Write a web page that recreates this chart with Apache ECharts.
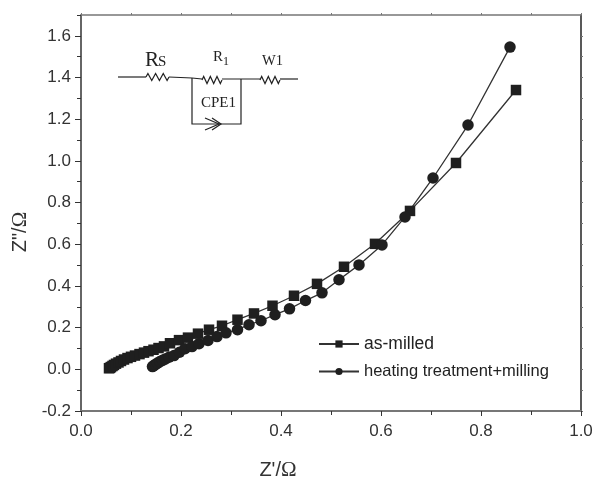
<!DOCTYPE html>
<html>
<head>
<meta charset="utf-8">
<style>
  html, body { margin: 0; padding: 0; background: #fff; }
  #main { width: 596px; height: 477px; }
</style>
<script src="https://cdn.jsdelivr.net/npm/echarts@6/dist/echarts.min.js"></script>
</head>
<body>
<div id="main"></div>
<script>
var milledX = [0.056, 0.058, 0.060, 0.063, 0.066, 0.070, 0.075, 0.080, 0.086, 0.093, 0.100, 0.108, 0.117, 0.126, 0.135, 0.145, 0.155, 0.166, 0.178, 0.196, 0.214, 0.234, 0.256, 0.282, 0.313, 0.346, 0.383, 0.426, 0.472, 0.526, 0.588, 0.658, 0.750, 0.870];
var milledY = [0.005, 0.007, 0.011, 0.016, 0.021, 0.027, 0.033, 0.040, 0.047, 0.054, 0.060, 0.066, 0.073, 0.080, 0.087, 0.094, 0.102, 0.110, 0.125, 0.140, 0.152, 0.171, 0.190, 0.209, 0.238, 0.268, 0.305, 0.353, 0.410, 0.492, 0.602, 0.760, 0.990, 1.340];
var heatedX = [0.143, 0.146, 0.149, 0.153, 0.158, 0.163, 0.169, 0.176, 0.186, 0.197, 0.208, 0.222, 0.236, 0.254, 0.272, 0.290, 0.313, 0.336, 0.360, 0.388, 0.417, 0.449, 0.482, 0.516, 0.556, 0.602, 0.648, 0.704, 0.774, 0.858];
var heatedY = [0.013, 0.018, 0.024, 0.030, 0.037, 0.043, 0.050, 0.058, 0.066, 0.082, 0.099, 0.109, 0.123, 0.138, 0.157, 0.175, 0.190, 0.214, 0.233, 0.262, 0.290, 0.330, 0.367, 0.430, 0.501, 0.597, 0.731, 0.918, 1.172, 1.546];
var xMajor = [0, 0.2, 0.4, 0.6, 0.8, 1.0];
var xMinor = [0.1, 0.3, 0.5, 0.7, 0.9];
var yMajor = [-0.2, 0, 0.2, 0.4, 0.6, 0.8, 1.0, 1.2, 1.4, 1.6];
var yMinor = [-0.1, 0.1, 0.3, 0.5, 0.7, 0.9, 1.1, 1.3, 1.5];

function zip(xs, ys) {
  return xs.map(function (x, i) { return [x, ys[i]]; });
}

var font = '"Liberation Sans", Arial, sans-serif';
var dark = '#1f1f1f';
var serif = '"Liberation Serif", "Times New Roman", serif';
var omegaRich = { o: { fontFamily: serif, fontSize: 21, color: '#333' } };

function resistor(x, y, w) {
  // zigzag of the circuit sketch
  var pts = [], n = 6, step = w / n;
  pts.push([x, y]);
  for (var i = 0; i < n; i++) {
    pts.push([x + step * (i + 0.5), y + (i % 2 ? 3.5 : -3.5)]);
  }
  pts.push([x + w, y]);
  return wire(pts);
}
function wire(pts) {
  return { type: 'polyline', shape: { points: pts }, style: { stroke: '#222', lineWidth: 1.2, fill: null } };
}
function label(x, y, t, size) {
  return { type: 'text', x: x, y: y, style: { text: t, font: size + 'px ' + serif, fill: '#222' } };
}
function oneDigit(v) {
  return v.toFixed(1);
}

var myChart = echarts.init(document.getElementById('main'));
var option = {
  animation: false,
  backgroundColor: '#fff',
  grid: { left: 81, right: 15, top: 15, bottom: 66, outerBoundsMode: 'none' },
  legend: {
    orient: 'vertical',
    left: 318,
    top: 335,
    padding: 0,
    itemWidth: 40,
    itemHeight: 9,
    itemGap: 10,
    textStyle: { fontFamily: font, color: '#222' },
    data: [
      { name: 'as-milled', textStyle: { fontSize: 17.5 } },
      { name: 'heating treatment+milling', textStyle: { fontSize: 16.5 } }
    ]
  },
  xAxis: [
    {
      type: 'value', min: 0, max: 1, interval: 0.2,
      name: "Z'/{o|\u03a9}", nameLocation: 'middle', nameGap: 49,
      nameTextStyle: { fontFamily: font, fontSize: 20, color: '#333', padding: [0, 106, 0, 0], rich: omegaRich },
      axisLine: { onZero: false, lineStyle: { color: '#777', width: 2 } },
      axisTick: { length: 5, lineStyle: { color: '#333' } },
      axisLabel: { fontFamily: font, fontSize: 17, color: '#333', margin: 12, formatter: oneDigit },
      splitLine: { show: false }
    },
    {
      type: 'value', min: 0, max: 1, position: 'bottom',
      axisLine: { show: false, onZero: false },
      axisTick: { length: 4, lineStyle: { color: '#333' }, customValues: xMinor },
      axisLabel: { show: false },
      splitLine: { show: false }
    },
    {
      type: 'value', min: 0, max: 1, position: 'top',
      axisLine: { onZero: false, lineStyle: { color: '#777', width: 1.5 } },
      axisTick: { length: 2, lineStyle: { color: '#777' }, customValues: xMajor.concat(xMinor) },
      axisLabel: { show: false },
      splitLine: { show: false }
    }
  ],
  yAxis: [
    {
      type: 'value', min: -0.2, max: 1.7,
      name: 'Z"/{o|\u03a9}', nameLocation: 'middle', nameGap: 50,
      nameTextStyle: { fontFamily: font, fontSize: 20, color: '#333', padding: [0, 38, 0, 0], rich: omegaRich },
      axisLine: { onZero: false, lineStyle: { color: '#333', width: 1.5 } },
      axisTick: { length: 6, lineStyle: { color: '#333' }, customValues: yMajor },
      axisLabel: { fontFamily: font, fontSize: 17, color: '#333', margin: 10, customValues: yMajor, formatter: oneDigit },
      splitLine: { show: false }
    },
    {
      type: 'value', min: -0.2, max: 1.7, position: 'left',
      axisLine: { show: false, onZero: false },
      axisTick: { length: 4, lineStyle: { color: '#333' }, customValues: yMinor.concat([1.7]) },
      axisLabel: { show: false },
      splitLine: { show: false }
    },
    {
      type: 'value', min: -0.2, max: 1.7, position: 'right',
      axisLine: { onZero: false, lineStyle: { color: '#222', width: 1.5 } },
      axisTick: { length: 2, lineStyle: { color: '#777' }, customValues: yMajor.concat(yMinor) },
      axisLabel: { show: false },
      splitLine: { show: false }
    }
  ],
  series: [
    {
      name: 'as-milled', type: 'line', data: zip(milledX, milledY),
      symbol: 'rect', symbolSize: 10.5,
      itemStyle: { color: dark },
      lineStyle: { color: '#333', width: 1.3 }
    },
    {
      name: 'heating treatment+milling', type: 'line', data: zip(heatedX, heatedY),
      symbol: 'circle', symbolSize: 11.5,
      itemStyle: { color: dark },
      lineStyle: { color: '#333', width: 1.3 }
    }
  ],
  graphic: [
    wire([[118, 77], [146, 77]]),
    resistor(146, 77, 23),
    wire([[169, 77], [192, 78], [202, 79]]),
    resistor(202, 80, 20),
    wire([[222, 79], [260, 79]]),
    resistor(260, 80, 20),
    wire([[280, 79], [298, 79]]),
    wire([[192, 78], [192, 124], [241, 124], [241, 79]]),
    wire([[205, 118], [219, 124], [205, 130]]),
    wire([[212, 118], [221, 124], [212, 130]]),
    label(145, 50, 'R', 21),
    label(158, 55, 'S', 15),
    label(213, 50, 'R', 15),
    label(223, 56, '1', 12),
    label(262, 54, 'W1', 14.5),
    label(201, 96, 'CPE1', 15)
  ]
};
myChart.setOption(option);
</script>
</body>
</html>
